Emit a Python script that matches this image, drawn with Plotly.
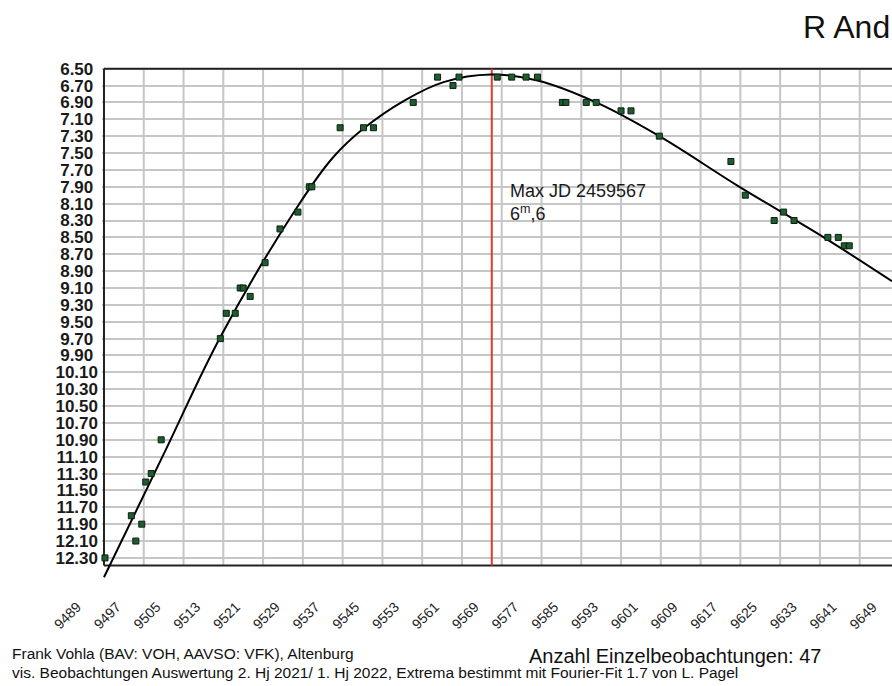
import plotly.graph_objects as go

# visual estimates of R And, JD - 2450000 and magnitude
obs_jd = [9489.2, 9494.5, 9495.4, 9496.6, 9497.4, 9498.5, 9500.5, 9512.4,
          9513.6, 9515.4, 9516.4, 9517.0, 9518.4, 9521.4, 9524.4, 9528.0,
          9530.3, 9530.8, 9536.5, 9541.2, 9543.2, 9551.2, 9556.1, 9559.2,
          9560.4, 9568.1, 9571.0, 9573.9, 9576.2, 9581.2, 9581.9, 9586.0,
          9588.0, 9593.0, 9595.0, 9600.7, 9615.1, 9618.0, 9623.8, 9625.7,
          9627.8, 9634.6, 9636.7, 9637.9, 9638.9]
obs_mag = [12.3, 11.8, 12.1, 11.9, 11.4, 11.3, 10.9, 9.7,
           9.4, 9.4, 9.1, 9.1, 9.2, 8.8, 8.4, 8.2,
           7.9, 7.9, 7.2, 7.2, 7.2, 6.9, 6.6, 6.7,
           6.6, 6.6, 6.6, 6.6, 6.6, 6.9, 6.9, 6.9,
           6.9, 7.0, 7.0, 7.3, 7.6, 8.0, 8.3, 8.2,
           8.3, 8.5, 8.5, 8.6, 8.6]

# Fourier fit
fit_jd = [9489.0, 9501.0, 9512.6, 9528.2, 9535.1, 9541.2, 9549.5, 9557.3,
          9566.8, 9576.2, 9588.0, 9600.7, 9616.9, 9633.7, 9647.5]
fit_mag = [12.53, 11.07, 9.66, 8.11, 7.55, 7.21, 6.875, 6.659,
           6.568, 6.64, 6.90, 7.30, 7.904, 8.497, 9.02]

max_jd = 9567
max_text = "Max JD 2459567<br>6<sup>m</sup>,6"

x_ticks = [9489, 9497, 9505, 9513, 9521, 9529, 9537, 9545, 9553, 9561, 9569,
           9577, 9585, 9593, 9601, 9609, 9617, 9625, 9633, 9641, 9649]
y_ticks = [6.50, 6.70, 6.90, 7.10, 7.30, 7.50, 7.70, 7.90, 8.10, 8.30,
           8.50, 8.70, 8.90, 9.10, 9.30, 9.50, 9.70, 9.90, 10.10, 10.30,
           10.50, 10.70, 10.90, 11.10, 11.30, 11.50, 11.70, 11.90, 12.10, 12.30]

FONT = "Liberation Sans, Arial, sans-serif"
GRID = "#c6c6c6"
FRAME = "#222222"
XMIN, XMAX = 9488.6, 9647.5
YTOP, YBOT = 6.48, 12.55
FRAME_BOTTOM = 12.39
LABEL_SHIFT, LABEL_GAP = -27, 16

fig = go.Figure()

fig.add_trace(go.Scatter(x=fit_jd, y=fit_mag, mode="lines",
                         line=dict(color="black", width=2, shape="spline"),
                         hoverinfo="skip"))
fig.add_trace(go.Scatter(x=obs_jd, y=obs_mag, mode="markers", cliponaxis=False,
                         marker=dict(symbol="square", size=6, color="#1f5c30",
                                     line=dict(color="#0b1f0f", width=1))))

shapes = []
# vertical grid, stops at the frame
for t in x_ticks:
    if x_ticks[0] < t <= XMAX:
        shapes.append(dict(type="line", xref="x", yref="y", x0=t, x1=t,
                           y0=y_ticks[0], y1=FRAME_BOTTOM, layer="between",
                           line=dict(color=GRID, width=2)))
# frame: top, left, bottom
shapes.append(dict(type="line", xref="x", yref="y", x0=x_ticks[0], x1=XMAX,
                   y0=y_ticks[0], y1=y_ticks[0], layer="between",
                   line=dict(color=FRAME, width=2)))
shapes.append(dict(type="line", xref="x", yref="y", x0=x_ticks[0], x1=x_ticks[0],
                   y0=y_ticks[0], y1=FRAME_BOTTOM, layer="between",
                   line=dict(color=FRAME, width=2)))
shapes.append(dict(type="line", xref="x", yref="y", x0=x_ticks[0], x1=XMAX,
                   y0=FRAME_BOTTOM, y1=FRAME_BOTTOM, layer="between",
                   line=dict(color=FRAME, width=2)))
# maximum
shapes.append(dict(type="line", xref="x", yref="y", x0=max_jd, x1=max_jd,
                   y0=y_ticks[0], y1=FRAME_BOTTOM, layer="between",
                   line=dict(color="#e2382e", width=2)))

annotations = [
    dict(text="R And", xref="paper", yref="paper", x=1.0, y=1.079,
         xanchor="right", yanchor="middle", showarrow=False,
         font=dict(size=32, color="#111111")),
    dict(text=max_text, xref="x", yref="y", x=max_jd, y=7.81, xshift=16,
         xanchor="left", yanchor="top", align="left", showarrow=False,
         font=dict(size=18, color="#1a1a1a")),
    # last tick label lies just past the right edge of the picture
    dict(text=str(x_ticks[-1]), xref="paper", yref="paper",
         x=(x_ticks[-1] - XMIN) / (XMAX - XMIN), y=0, xshift=LABEL_SHIFT + 10,
         yshift=-LABEL_GAP - 2, xanchor="right", yanchor="top", textangle=-45,
         showarrow=False, font=dict(size=14, color="#222222")),
    dict(text="Frank Vohla (BAV: VOH, AAVSO: VFK), Altenburg", xref="paper",
         yref="paper", x=-0.1168, y=-0.1458, xanchor="left", yanchor="middle",
         showarrow=False, font=dict(size=15.5, color="#111111")),
    dict(text="vis. Beobachtungen Auswertung 2. Hj 2021/ 1. Hj 2022, Extrema "
              "bestimmt mit Fourier-Fit 1.7 von L. Pagel", xref="paper",
         yref="paper", x=-0.1168, y=-0.183, xanchor="left", yanchor="middle",
         showarrow=False, font=dict(size=15.5, color="#111111")),
    dict(text="Anzahl Einzelbeobachtungen: 47", xref="paper", yref="paper",
         x=0.538, y=-0.1497, xanchor="left", yanchor="middle",
         showarrow=False, font=dict(size=20, color="#111111")),
]

fig.update_layout(
    width=892, height=686,
    margin=dict(l=102, r=0, t=67, b=107),
    paper_bgcolor="white", plot_bgcolor="white",
    showlegend=False,
    font=dict(family=FONT, color="#1a1a1a"),
    shapes=shapes,
    annotations=annotations,
    xaxis=dict(range=[XMIN, XMAX], tickvals=x_ticks,
               ticktext=[str(t) for t in x_ticks], tickangle=-45,
               tickfont=dict(size=14, color="#222222"),
               showgrid=False, zeroline=False, showline=False, ticks="",
               ticklabelshift=LABEL_SHIFT, ticklabelstandoff=LABEL_GAP),
    yaxis=dict(range=[YBOT, YTOP], tickvals=y_ticks,
               ticktext=[f"{v:.2f}" + ("\u00a0" if v < 10 else "") for v in y_ticks],
               tickfont=dict(size=17, color="#1a1a1a", weight="bold"),
               showgrid=True, gridcolor=GRID, gridwidth=2,
               zeroline=False, showline=False, ticks="", ticklabelstandoff=3),
)

# drop the page's default body margin so the figure fills the window
fig.write_html("out.html", config={"displayModeBar": False},
               post_script="document.body.style.margin = '0';")
